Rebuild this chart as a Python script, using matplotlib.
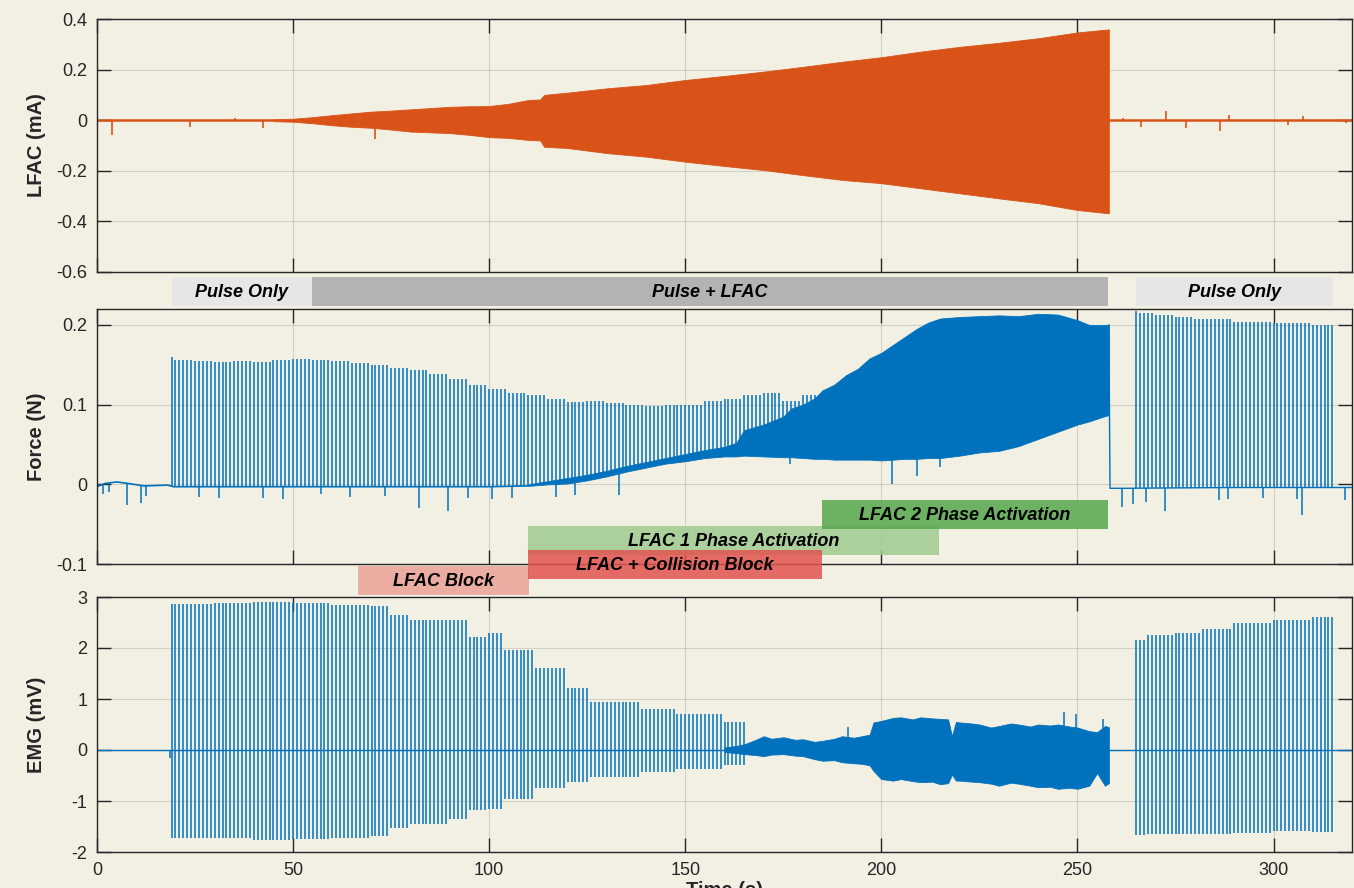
import matplotlib
matplotlib.use("Agg")
import matplotlib.pyplot as plt
import matplotlib.transforms as mtransforms
from matplotlib.patches import Rectangle
from matplotlib.ticker import FormatStrFormatter
import numpy as np

BG = "#f2efe3"
ORANGE = "#d95319"
BLUE = "#0072bd"
DARK = "#262626"

# stimulation pulses are delivered once per second inside each block
pulse_period = 1.0

# ---- LFAC current (mA): envelope of the ramped sine burst ----
lfac_t = [45, 50, 55, 60, 65, 70, 75, 80, 85, 90, 95, 100, 105, 110, 113, 114,
          120, 130, 140, 150, 160, 170, 180, 190, 200, 210, 220, 230, 240, 250, 258]
lfac_hi = [0.004, 0.006, 0.012, 0.02, 0.027, 0.034, 0.038, 0.043, 0.048, 0.053,
           0.055, 0.056, 0.065, 0.08, 0.082, 0.1, 0.109, 0.126, 0.139, 0.159,
           0.175, 0.192, 0.211, 0.231, 0.249, 0.271, 0.29, 0.306, 0.324, 0.347, 0.359]
lfac_lo = [-0.004, -0.006, -0.012, -0.02, -0.026, -0.03, -0.037, -0.045, -0.048, -0.051,
           -0.058, -0.067, -0.07, -0.078, -0.08, -0.105, -0.11, -0.13, -0.144, -0.164,
           -0.181, -0.197, -0.217, -0.236, -0.249, -0.269, -0.289, -0.309, -0.328, -0.355, -0.368]
lfac_spk_t = [3.7, 23.7, 35.1, 42.4, 71, 261.5, 266.3, 272.5, 277.6, 286.3, 288.7, 303.8, 307.6, 318.4]
lfac_spk_v = [-0.058, -0.026, 0.01, -0.03, -0.075, 0.008, -0.025, 0.036, -0.031, -0.043, 0.02, -0.02, 0.015, -0.012]

# ---- Force (N) ----
force_base_t = [0, 2, 5, 8, 12, 18, 19.5, 60, 100, 110]
force_base_v = [-0.003, 0.001, 0.003, 0.001, -0.002, -0.001, -0.003, -0.003, -0.003, -0.002]
force_band_t = [110, 115, 120, 125, 130, 135, 140, 145, 150, 155, 160, 163, 165, 170, 175,
                177, 180, 183, 185, 188, 191, 194, 197, 200, 203, 206, 209, 212, 215, 220,
                225, 230, 235, 240, 245, 250, 253, 256, 258]
force_band_hi = [0.0, 0.004, 0.008, 0.012, 0.017, 0.023, 0.028, 0.033, 0.038, 0.043,
                 0.047, 0.052, 0.068, 0.075, 0.085, 0.095, 0.1, 0.108, 0.118, 0.125,
                 0.137, 0.145, 0.158, 0.165, 0.175, 0.185, 0.195, 0.203, 0.208, 0.21,
                 0.211, 0.212, 0.211, 0.214, 0.213, 0.206, 0.2, 0.2, 0.2]
force_band_lo = [-0.002, 0.0, 0.001, 0.005, 0.01, 0.016, 0.021, 0.026, 0.029, 0.033,
                 0.035, 0.035, 0.036, 0.035, 0.034, 0.034, 0.033, 0.032, 0.032, 0.031,
                 0.031, 0.031, 0.031, 0.03, 0.031, 0.032, 0.032, 0.033, 0.033, 0.036,
                 0.04, 0.042, 0.048, 0.057, 0.066, 0.075, 0.079, 0.084, 0.087]
force_tail_t = [258.3, 262, 290, 320]
force_tail_v = [-0.005, -0.005, -0.004, -0.004]

force_edges_a = [19, 20, 25, 30, 35, 40, 45, 50, 55, 60, 65, 70, 75, 80, 85, 90, 95, 100,
                 105, 110, 115, 120, 125, 130, 135, 140, 145, 150, 155, 160, 165, 170, 175, 180, 185]
force_peak_a = [0.16, 0.156, 0.155, 0.153, 0.155, 0.153, 0.156, 0.157, 0.156, 0.155,
                0.152, 0.15, 0.146, 0.143, 0.138, 0.132, 0.125, 0.12, 0.115, 0.112,
                0.107, 0.103, 0.105, 0.102, 0.1, 0.098, 0.099, 0.1, 0.104, 0.107,
                0.112, 0.114, 0.104, 0.112]
force_edges_b = [265, 266, 270, 275, 280, 290, 300, 310, 316]
force_peak_b = [0.218, 0.215, 0.212, 0.21, 0.207, 0.204, 0.202, 0.2]

force_art_t = [1.5, 3, 7.6, 11.2, 12.6, 26, 31, 42.4, 47.3, 57.2, 64.6, 73.4, 82.1, 89.5,
               94.6, 100.8, 105.8, 117, 122, 133, 176.6, 202.8, 209.2, 215, 261.4, 264.2,
               267.4, 272.3, 286, 288.5, 297.3, 305.9, 307.2, 318.3]
force_art_v = [-0.012, -0.01, -0.026, -0.024, -0.015, -0.016, -0.017, -0.017, -0.018, -0.012,
               -0.016, -0.015, -0.03, -0.034, -0.017, -0.018, -0.017, -0.016, -0.014, -0.013,
               0.026, 0.001, 0.01, 0.022, -0.029, -0.025, -0.022, -0.034, -0.02, -0.018,
               -0.017, -0.018, -0.039, -0.02]

# ---- EMG (mV) ----
emg_edges_a = [19, 30, 40, 50, 60, 70, 75, 80, 90, 95, 100, 104, 112, 120, 126, 139, 148, 160, 166]
emg_pos_a = [2.86, 2.88, 2.9, 2.88, 2.85, 2.82, 2.65, 2.55, 2.55, 2.22, 2.3, 1.97, 1.6, 1.22,
             0.95, 0.8, 0.7, 0.55]
emg_neg_a = [-1.73, -1.72, -1.76, -1.74, -1.72, -1.68, -1.52, -1.45, -1.36, -1.18, -1.15,
             -0.97, -0.75, -0.63, -0.52, -0.44, -0.37, -0.3]
emg_edges_b = [265, 268, 275, 282, 290, 300, 310, 316]
emg_pos_b = [2.15, 2.25, 2.3, 2.38, 2.5, 2.55, 2.6]
emg_neg_b = [-1.66, -1.65, -1.65, -1.64, -1.62, -1.58, -1.6]

emg_band_t = [160, 163, 165, 168, 170, 172, 175, 178, 180, 183, 185, 188, 190, 193, 195,
              197, 198, 200, 203, 205, 208, 210, 213, 215, 217, 218, 219, 220, 223, 225,
              228, 230, 233, 235, 238, 240, 243, 245, 248, 250, 253, 255, 257, 258]
emg_band_hi = [0.05, 0.08, 0.11, 0.2, 0.27, 0.22, 0.25, 0.2, 0.21, 0.16, 0.18, 0.22, 0.27,
               0.24, 0.27, 0.3, 0.54, 0.57, 0.63, 0.64, 0.6, 0.64, 0.62, 0.61, 0.6, 0.27,
               0.55, 0.54, 0.52, 0.5, 0.44, 0.47, 0.52, 0.5, 0.46, 0.5, 0.48, 0.5, 0.46,
               0.44, 0.37, 0.35, 0.47, 0.45]
emg_band_lo = [-0.04, -0.06, -0.08, -0.1, -0.12, -0.09, -0.08, -0.11, -0.12, -0.18, -0.21,
               -0.2, -0.24, -0.26, -0.27, -0.3, -0.41, -0.57, -0.6, -0.57, -0.61, -0.63,
               -0.62, -0.67, -0.65, -0.48, -0.6, -0.6, -0.62, -0.63, -0.66, -0.7, -0.64,
               -0.66, -0.7, -0.73, -0.72, -0.76, -0.74, -0.76, -0.7, -0.45, -0.7, -0.65]
emg_spk_t = [18.6, 191.5, 246.6, 249.5, 256.5]
emg_spk_v = [-0.15, 0.45, 0.74, 0.7, 0.6]

# ---- protocol phases (start, end in s) ----
phase_top = [("Pulse Only", 19.1, 54.8, "#e6e6e6"),
             ("Pulse + LFAC", 54.8, 257.8, "#b3b3b3"),
             ("Pulse Only", 265.0, 315.2, "#e6e6e6")]
phase_low = [("LFAC 1 Phase Activation", 110.0, 214.8, "#9fcb90"),
             ("LFAC Block", 66.5, 110.2, "#eaa197"),
             ("LFAC + Collision Block", 110.0, 184.8, "#e2544f"),
             ("LFAC 2 Phase Activation", 184.8, 257.8, "#56a84c")]
# top pixel row of each box (figure is 888 px tall)
phase_top_px = [277, 277, 277]
phase_low_px = [526, 566, 550, 500]
BOX_H_PX = 29


def pulse_train(edges, *values):
    t, out = [], [[] for _ in values]
    for i in range(len(edges) - 1):
        ts = np.arange(edges[i], edges[i + 1], pulse_period)
        t.extend(ts)
        for k, v in enumerate(values):
            out[k].extend([v[i]] * len(ts))
    return (np.array(t),) + tuple(np.array(o) for o in out)


def style_axis(ax, ylim, yticks, ylabel):
    ax.set_facecolor(BG)
    ax.set_xlim(0, 320)
    ax.set_ylim(*ylim)
    ax.set_yticks(yticks)
    ax.set_xticks([0, 50, 100, 150, 200, 250, 300])
    ax.yaxis.set_major_formatter(FormatStrFormatter("%g"))
    ax.tick_params(direction="in", length=10, width=1, top=True, right=True,
                   labelsize=13, pad=7, colors=DARK)
    ax.grid(True, color=DARK, alpha=0.15, lw=0.8)
    ax.set_axisbelow(True)
    for s in ax.spines.values():
        s.set_color(DARK)
        s.set_linewidth(1)
    ax.set_ylabel(ylabel, fontsize=14.5, fontweight="bold", color=DARK)
    ax.yaxis.set_label_coords(-0.041, 0.5)


plt.rcParams["font.family"] = ["Liberation Sans", "DejaVu Sans"]
plt.rcParams["axes.unicode_minus"] = False

fig = plt.figure(figsize=(13.54, 8.88), dpi=100, facecolor=BG)
W, H = 1354.0, 888.0
left, width = 97 / W, 1255 / W
ax1 = fig.add_axes([left, 1 - 272 / H, width, 253 / H])
ax2 = fig.add_axes([left, 1 - 564 / H, width, 255 / H], sharex=ax1)
ax3 = fig.add_axes([left, 1 - 852 / H, width, 255 / H], sharex=ax1)

# LFAC
ax1.plot([0, 45], [0, 0], color=ORANGE, lw=1.8)
ax1.plot([258, 320], [0, 0], color=ORANGE, lw=1.8)
ax1.fill_between(lfac_t, lfac_lo, lfac_hi, color=ORANGE, lw=0.6, edgecolor=ORANGE)
ax1.vlines(lfac_spk_t, 0, lfac_spk_v, color=ORANGE, lw=1.2)
style_axis(ax1, (-0.6, 0.4), [-0.6, -0.4, -0.2, 0, 0.2, 0.4], "LFAC (mA)")

# Force
base_t = np.concatenate([force_base_t, force_band_t, force_tail_t])
base_v = np.concatenate([force_base_v, force_band_lo, force_tail_v])
ax2.plot(force_base_t, force_base_v, color=BLUE, lw=1.2)
ax2.fill_between(force_band_t, force_band_lo, force_band_hi, color=BLUE, lw=0.6, edgecolor=BLUE)
ax2.plot([258] + force_tail_t, [force_band_hi[-1]] + force_tail_v, color=BLUE, lw=1.0)
for edges, peaks in [(force_edges_a, force_peak_a), (force_edges_b, force_peak_b)]:
    pt, pk = pulse_train(edges, peaks)
    ax2.vlines(pt, np.interp(pt, base_t, base_v), pk, color=BLUE, lw=1.1)
ax2.vlines(force_art_t, np.interp(force_art_t, base_t, base_v), force_art_v, color=BLUE, lw=1.1)
style_axis(ax2, (-0.1, 0.22), [-0.1, 0, 0.1, 0.2], "Force (N)")

# EMG
ax3.plot([0, 320], [0, 0], color=BLUE, lw=1.0)
ax3.fill_between(emg_band_t, emg_band_lo, emg_band_hi, color=BLUE, lw=0.6, edgecolor=BLUE)
for edges, pos, neg in [(emg_edges_a, emg_pos_a, emg_neg_a), (emg_edges_b, emg_pos_b, emg_neg_b)]:
    pt, hi, lo = pulse_train(edges, pos, neg)
    ax3.vlines(pt, lo, hi, color=BLUE, lw=1.1)
ax3.vlines(emg_spk_t, 0, emg_spk_v, color=BLUE, lw=1.1)
style_axis(ax3, (-2, 3), [-2, -1, 0, 1, 2, 3], "EMG (mV)")
ax3.set_xlabel("Time (s)", fontsize=14.5, fontweight="bold", color=DARK)
ax3.xaxis.set_label_coords(0.5, -0.112)

ax1.tick_params(labelbottom=False)
ax2.tick_params(labelbottom=False)

# protocol boxes, x in data units, y in figure pixels
trans = mtransforms.blended_transform_factory(ax2.transData, fig.transFigure)
boxes = list(zip(phase_top, phase_top_px, [1.0] * 3)) + list(zip(phase_low, phase_low_px, [0.85] * 4))
for (label, x0, x1, color), top_px, alpha in boxes:
    y0 = 1 - (top_px + BOX_H_PX) / H
    fig.add_artist(Rectangle((x0, y0), x1 - x0, BOX_H_PX / H, transform=trans,
                             facecolor=color, edgecolor="none", alpha=alpha, zorder=5))
for (label, x0, x1, color), top_px, alpha in boxes:
    yc = 1 - (top_px + BOX_H_PX / 2 + 1) / H
    fig.text((x0 + x1) / 2, yc, label, transform=trans, ha="center", va="center",
             fontsize=13, fontweight="bold", fontstyle="italic", color="black", zorder=6)

fig.savefig("out.png", dpi=100, facecolor=BG)
